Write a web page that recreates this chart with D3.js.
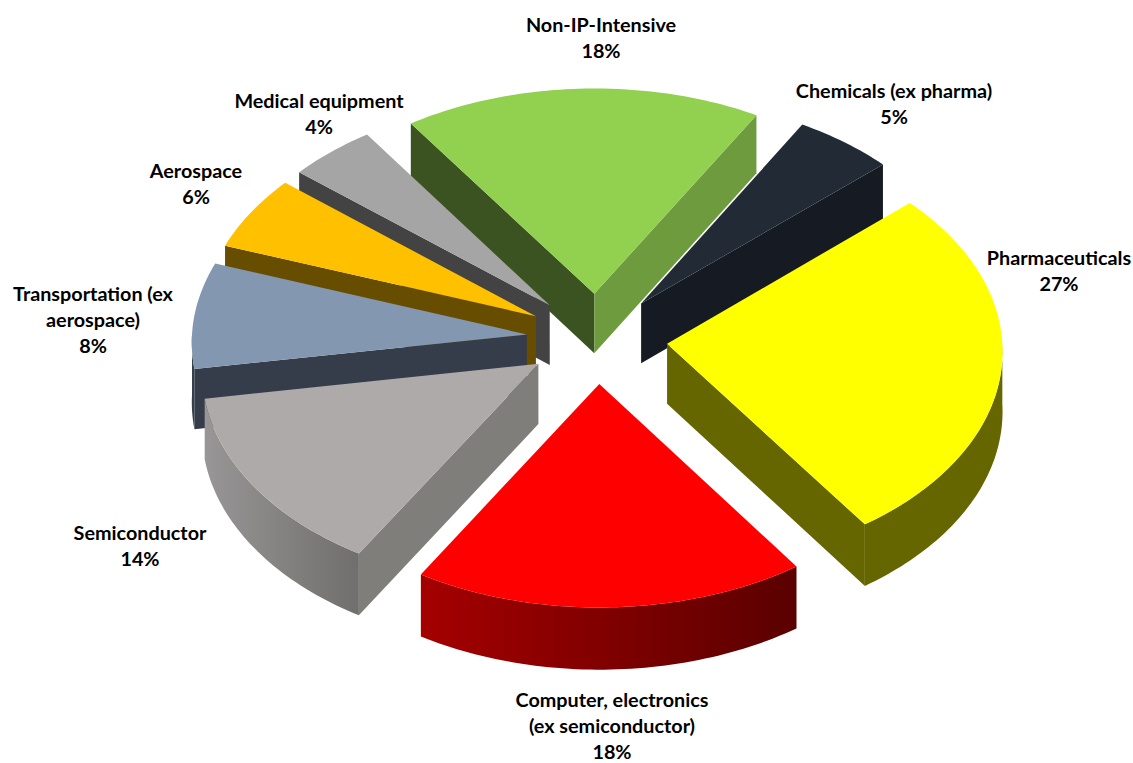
<!DOCTYPE html>
<html><head><meta charset="utf-8">
<script src="https://cdn.jsdelivr.net/npm/d3@7"></script>
<style>html,body{margin:0;padding:0;background:#fff}svg{display:block}</style>
</head><body><svg id="c" width="1133" height="763"></svg>
<script>
const categories=["Pharmaceuticals","Computer, electronics (ex semiconductor)","Semiconductor","Transportation (ex aerospace)","Aerospace","Medical equipment","Non-IP-Intensive","Chemicals (ex pharma)"];
const values=[27,18.3,13.8,8,5.6,4.4,17.9,5];
const labelLines=[["Pharmaceuticals"],["Computer, electronics","(ex semiconductor)"],["Semiconductor"],["Transportation (ex","aerospace)"],["Aerospace"],["Medical equipment"],["Non-IP-Intensive"],["Chemicals (ex pharma)"]];
const topColors=["#ffff00","#ff0000","#aeaaaa","#8497b0","#ffc000","#a5a5a5","#92d050","#222b35"];
const startWall=["#666600","#660000","#7f7e7b","#353d4b","#664d00","#434343","#3b5320","#151a23"];
const endWall=["#666600","#660000","#7f7e7b","#353d4b","#664d00","#434343","#6e9b3e","#151a23"];
const rimStops=[["#666600","#666600"],["#a50000","#5a0000"],["#989696","#716f6d"],["#353d4b","#353d4b"],["#664d00","#664d00"],["#434343","#434343"],["#3b5320","#6e9b3e"],["#151a23","#151a23"]];
const labelAnchors=[[1059,258],[612,700],[140,533],[93,294],[196,171],[319,101],[601,25],[894,91]];

const W=1133,H=763,cx=597,cy=338.5,R=335,explode=70.5,depth=60,tilt=0.64,persp=9e-5;
const svg=d3.select("#c");
const defs=svg.append("defs");
const pie=d3.pie().sort(null).value(d=>d).startAngle(48*Math.PI/180).endAngle((48+360)*Math.PI/180);
const arcs=pie(values).map((d,i)=>({...d,i,mid:(d.startAngle+d.endAngle)/2}));
const radius=d3.scaleLinear().domain([0,1]).range([0,R]);
function proj(X,Y,z){const s=1+persp*Y;return [cx+X*s,cy+Y*tilt*s+z*depth*s];}
function pt(d,a,r,z){
  const ex=explode*Math.sin(d.mid),ey=-explode*Math.cos(d.mid);
  const rr=radius(r);
  return proj(ex+rr*Math.sin(a),ey-rr*Math.cos(a),z);
}
const line=d3.line();
function arcPts(d,a0,a1,z){const n=Math.max(2,Math.ceil(Math.abs(a1-a0)/0.02));return d3.range(n+1).map(k=>pt(d,a0+(a1-a0)*k/n,1,z));}
function topPath(d){return line([pt(d,0,0,0),...arcPts(d,d.startAngle,d.endAngle,0)])+"Z";}
function wallPath(d,a){return line([pt(d,a,0,0),pt(d,a,1,0),pt(d,a,1,1),pt(d,a,0,1)])+"Z";}
function rimRange(d){
  const lo=Math.max(d.startAngle,Math.PI/2),hi=Math.min(d.endAngle,3*Math.PI/2);
  return hi>lo?[lo,hi]:null;
}
function rimPath(d){const r=rimRange(d);const t=arcPts(d,r[0],r[1],0),b=arcPts(d,r[0],r[1],1).reverse();return line([...t,...b])+"Z";}

arcs.forEach(d=>{
  const r=rimRange(d);if(!r)return;
  const xs=[...arcPts(d,r[0],r[1],0)].map(p=>p[0]);
  const g=defs.append("linearGradient").attr("id","rim"+d.i).attr("gradientUnits","userSpaceOnUse")
    .attr("x1",d3.min(xs)).attr("x2",d3.max(xs)).attr("y1",0).attr("y2",0);
  g.append("stop").attr("offset",0).attr("stop-color",rimStops[d.i][0]);
  g.append("stop").attr("offset",1).attr("stop-color",rimStops[d.i][1]);
});

const order=arcs.slice().sort((a,b)=>pt(a,0,0,0)[1]-pt(b,0,0,0)[1]);
const g=svg.append("g").selectAll("g").data(order).join("g").attr("class","slice");
g.filter(d=>Math.cos(d.startAngle-Math.PI/2)<0).append("path").attr("d",d=>wallPath(d,d.startAngle)).attr("fill",d=>startWall[d.i]);
g.filter(d=>Math.cos(d.endAngle-Math.PI/2)>0).append("path").attr("d",d=>wallPath(d,d.endAngle)).attr("fill",d=>endWall[d.i]);
g.filter(d=>rimRange(d)).append("path").attr("d",rimPath).attr("fill",d=>`url(#rim${d.i})`);
g.append("path").attr("d",topPath).attr("fill",d=>topColors[d.i]);

const t=svg.append("g").attr("font-family","Lato, Carlito, sans-serif").attr("font-weight",700).attr("font-size",19.8).attr("text-anchor","middle").attr("fill","#000");
arcs.forEach(d=>{
  const lines=[...labelLines[d.i],Math.round(d.value)+"%"];
  const [x,y]=labelAnchors[d.i];
  lines.forEach((s,k)=>t.append("text").attr("x",x).attr("y",y+k*26).attr("dy","0.33em").text(s));
});
</script></body></html>
